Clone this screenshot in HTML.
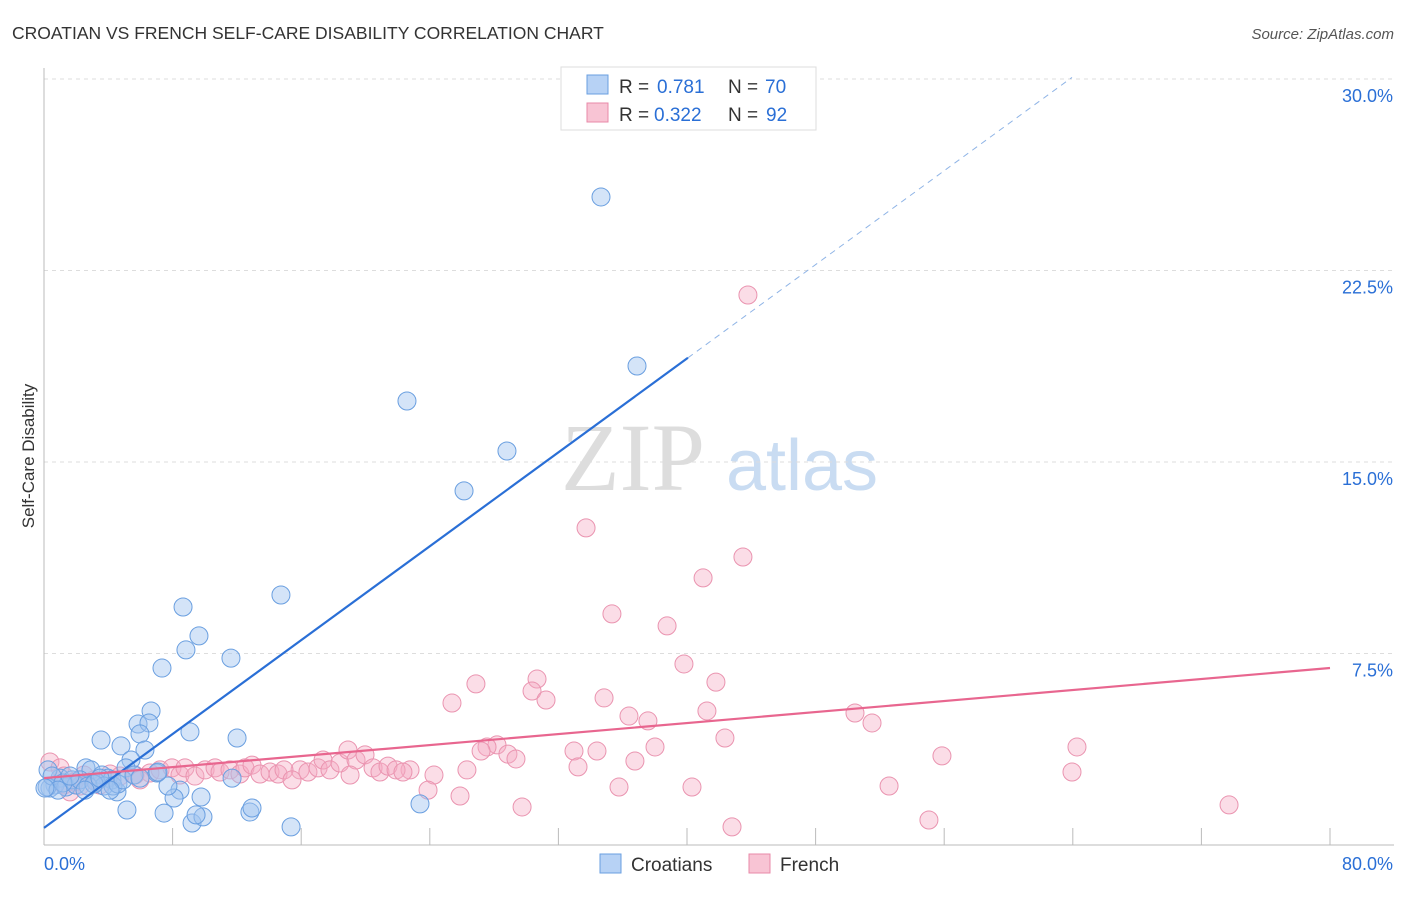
<!DOCTYPE html>
<html><head><meta charset="utf-8"><style>
body{margin:0;background:#fff;font-family:"Liberation Sans",sans-serif}
</style></head><body>
<svg width="1406" height="892" viewBox="0 0 1406 892" id="chart">
<text x="12" y="39" font-size="17.5" fill="#333">CROATIAN VS FRENCH SELF-CARE DISABILITY CORRELATION CHART</text>
<text x="1394" y="39" font-size="15" fill="#555" text-anchor="end" font-style="italic">Source: ZipAtlas.com</text>
<text x="0" y="0" transform="translate(34,456) rotate(-90)" font-size="17" fill="#333" text-anchor="middle">Self-Care Disability</text>
<g><text x="633" y="490" font-size="96" fill="#ddd" font-family="Liberation Serif" text-anchor="middle">ZIP</text><text x="802" y="490" font-size="72" fill="#c9dcf2" text-anchor="middle">atlas</text></g>
<g id="grid"></g><g id="axes"></g><g id="marks"></g>
<g>
<rect x="561" y="67" width="255" height="63" fill="#fff" stroke="#ddd"/>
<rect x="587" y="75" width="21" height="19" fill="#b7d2f5" stroke="#6a9fe0"/>
<rect x="587" y="103" width="21" height="19" fill="#f8c4d4" stroke="#e88aa8"/>
<text x="619" y="93" font-size="19" fill="#333">R =</text><text x="657" y="93" font-size="19" fill="#2a6fd6">0.781</text>
<text x="728" y="93" font-size="19" fill="#333">N =</text><text x="765" y="93" font-size="19" fill="#2a6fd6">70</text>
<text x="619" y="121" font-size="19" fill="#333">R =</text><text x="654" y="121" font-size="19" fill="#2a6fd6">0.322</text>
<text x="728" y="121" font-size="19" fill="#333">N =</text><text x="766" y="121" font-size="19" fill="#2a6fd6">92</text>
</g>
<g>
<rect x="600" y="854" width="21" height="19" fill="#b7d2f5" stroke="#6a9fe0"/>
<text x="631" y="871" font-size="19" fill="#333">Croatians</text>
<rect x="749" y="854" width="21" height="19" fill="#f8c4d4" stroke="#e88aa8"/>
<text x="780" y="871" font-size="19" fill="#333">French</text>
</g>
</svg>
<script>
const blueX=[34.65,36.89,22.58,28.80,26.13,14.74,8.65,9.64,8.83,11.63,7.34,6.66,5.85,6.53,5.97,9.08,3.55,4.79,6.28,12.01,5.41,5.10,7.03,11.70,4.54,5.16,7.47,8.46,8.09,9.77,7.71,9.21,9.89,9.46,12.81,12.94,15.37,23.39,2.61,2.92,3.61,3.98,4.23,1.00,0.68,0.37,0.19,1.37,1.74,1.99,2.24,3.23,3.73,4.29,4.60,4.91,5.60,5.97,7.09,0.25,0.50,1.18,1.62,2.74,3.11,3.48,2.55,4.11,0.87,0.06];
const blueY=[25.38,18.76,17.39,15.43,13.87,9.79,9.32,8.19,7.64,7.32,6.93,5.25,4.74,4.78,4.35,4.43,4.11,3.88,3.72,4.19,3.33,3.02,2.82,2.62,2.08,1.37,1.25,2.15,1.84,1.88,2.31,0.86,1.10,1.18,1.29,1.45,0.71,1.61,3.02,2.94,2.74,2.62,2.55,2.62,2.35,2.23,2.27,2.27,2.55,2.35,2.55,2.47,2.31,2.31,2.39,2.55,2.74,2.62,2.86,2.94,2.70,2.43,2.70,2.31,2.39,2.62,2.15,2.15,2.15,2.23];
const pinkX=[43.79,33.72,43.48,41.00,35.33,38.76,39.81,41.80,30.67,30.36,26.87,34.84,31.23,25.38,41.24,36.39,50.45,37.57,51.51,42.36,64.26,38.01,28.18,27.56,32.97,34.40,27.19,28.86,29.36,55.86,36.76,33.22,26.31,24.26,22.77,15.93,63.95,52.57,40.31,35.77,25.88,23.89,29.74,73.72,55.05,42.80,0.37,1.00,1.24,1.87,2.49,3.11,4.11,4.73,5.66,6.59,7.22,7.96,8.46,8.77,9.39,10.02,10.64,10.95,11.57,12.19,12.50,12.94,13.44,14.06,14.56,14.93,15.43,16.42,17.05,17.36,17.79,18.41,18.91,19.41,19.97,20.47,20.90,21.40,21.90,22.33,19.04,1.24,2.24,3.48,1.62,5.97];
const pinkY=[21.54,12.42,11.28,10.46,9.05,8.58,7.09,6.38,6.50,6.03,6.31,5.76,5.68,5.56,5.25,5.05,5.17,4.86,4.78,4.19,3.84,3.84,3.92,3.84,3.68,3.68,3.68,3.56,3.37,3.49,3.29,3.06,2.94,2.74,2.94,2.94,2.86,2.31,2.27,2.27,1.92,2.15,1.49,1.57,0.98,0.71,3.25,3.02,2.70,2.47,2.74,2.55,2.78,2.70,2.74,2.82,2.94,3.02,2.74,3.02,2.70,2.94,3.02,2.86,2.94,2.78,3.02,3.13,2.78,2.86,2.78,2.94,2.55,2.86,3.02,3.33,2.94,3.21,3.72,3.33,3.53,3.02,2.86,3.09,2.94,2.86,2.74,2.35,2.31,2.35,2.08,2.55];
const blueTrend=[0.67,0.4596];
const pinkTrend=[2.62,0.0539];
const yTicks=[7.5,15,22.5,30];
const xTicks=[0,10,20,30,40,50,60,70,80];
const NS='http://www.w3.org/2000/svg';
const sx=v=>44+v/80*1286, sy=v=>845-v/7.5*191.5;
function mk(tag,at,parent){const e=document.createElementNS(NS,tag);for(const k in at)e.setAttribute(k,at[k]);document.getElementById(parent).appendChild(e);return e;}
yTicks.forEach(t=>{
 const l=mk('line',{x1:44,x2:1394,y1:sy(t),y2:sy(t),stroke:'#ddd','stroke-dasharray':'4,4'},'grid');
 
 
 const tx=mk('text',{x:1393,y:sy(t)+23,'font-size':18,fill:'#2a6fd6','text-anchor':'end'},'grid');
 tx.textContent=t.toFixed(1)+'%';
 
 
});
let a=mk('line',{x1:44,x2:44,y1:68,y2:845,stroke:'#bbb'},'axes');


a=mk('line',{x1:44,x2:1394,y1:845,y2:845,stroke:'#bbb'},'axes');


for(let i=1;i<=10;i++){const x=44+i*1286/10;const t=mk('line',{x1:x,x2:x,y1:828,y2:845,stroke:'#bbb'},'axes');
 
 }
let xl=mk('text',{x:44,y:870,'font-size':18,fill:'#2a6fd6'},'axes');xl.textContent='0.0%';


xl=mk('text',{x:1393,y:870,'font-size':18,fill:'#2a6fd6','text-anchor':'end'},'axes');xl.textContent='80.0%';


pinkX.forEach((v,i)=>{const c=mk('circle',{cx:sx(v),cy:sy(pinkY[i]),r:9,fill:'rgba(246,170,196,0.4)',stroke:'#ea94b0','stroke-width':1},'marks');
 
 });
blueX.forEach((v,i)=>{const c=mk('circle',{cx:sx(v),cy:sy(blueY[i]),r:9,fill:'rgba(160,196,240,0.45)',stroke:'#6a9fe0','stroke-width':1},'marks');
 
 });
let L=mk('line',{x1:sx(0),y1:sy(blueTrend[0]),x2:sx(40.06),y2:sy(blueTrend[0]+blueTrend[1]*40.06),stroke:'#2a6fd6','stroke-width':2.2},'marks');


L=mk('line',{x1:sx(40.06),y1:sy(blueTrend[0]+blueTrend[1]*40.06),x2:sx(63.95),y2:sy(blueTrend[0]+blueTrend[1]*63.95),stroke:'#8fb4e6','stroke-width':1,'stroke-dasharray':'6,5'},'marks');


L=mk('line',{x1:sx(0),y1:sy(pinkTrend[0]),x2:sx(80),y2:sy(pinkTrend[0]+pinkTrend[1]*80),stroke:'#e8668f','stroke-width':2.2},'marks');


</script>
</body></html>
